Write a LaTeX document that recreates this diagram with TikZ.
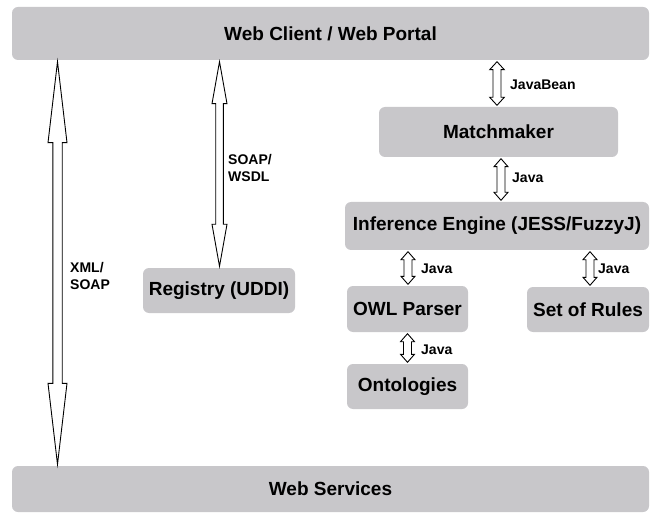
\documentclass[tikz,border=0pt]{standalone}
\usepackage{fontspec}
\setmainfont{Liberation Sans}
\usetikzlibrary{calc}
\definecolor{boxgray}{RGB}{200,199,202}
\tikzset{
  box/.style={fill=boxgray, rounded corners=6pt, inner sep=0pt,
    font=\fontsize{19}{21}\selectfont\bfseries},
  lbl/.style={anchor=west, align=left, inner sep=0pt,
    font=\fontsize{14}{16.5}\selectfont\bfseries},
  hollow/.style={draw=black, fill=white, line width=0.9pt, line join=miter}
}
% #1 x, #2 upper node, #3 lower node, #4 shaft half width, #5 head half width, #6 head length
\newcommand\dblarrow[6]{%
  \draw[hollow] let \p1=(#2.south), \p2=(#3.north) in
    (#1pt,\y1-1.5pt) -- (#1pt+#5pt,\y1-1.5pt-#6pt) -- (#1pt+#4pt,\y1-1.5pt-#6pt)
    -- (#1pt+#4pt,\y2+1.5pt+#6pt) -- (#1pt+#5pt,\y2+1.5pt+#6pt) -- (#1pt,\y2+1.5pt)
    -- (#1pt-#5pt,\y2+1.5pt+#6pt) -- (#1pt-#4pt,\y2+1.5pt+#6pt)
    -- (#1pt-#4pt,\y1-1.5pt-#6pt) -- (#1pt-#5pt,\y1-1.5pt-#6pt) -- cycle;}
\begin{document}
\begin{tikzpicture}[x=1pt,y=-1pt]
  \useasboundingbox (0,0) rectangle (656,513);
  \node[box, minimum width=637pt, minimum height=53pt] (client) at (330.5,33.5) {Web Client / Web Portal};
  \node[box, minimum width=637pt, minimum height=46pt] (services) at (330.5,489) {Web Services};
  \node[box, minimum width=152pt, minimum height=45pt] (registry) at (219,290.5) {Registry (UDDI)};
  \node[box, minimum width=239pt, minimum height=50pt] (matchmaker) at (498.5,132) {Matchmaker};
  \node[box, minimum width=304pt, minimum height=48pt] (engine) at (497,226) {Inference Engine (JESS/FuzzyJ)};
  \node[box, minimum width=121pt, minimum height=46pt] (owl) at (407.5,309) {OWL Parser};
  \node[box, minimum width=122pt, minimum height=45pt] (rules) at (588,309.5) {Set of Rules};
  \node[box, minimum width=121pt, minimum height=45pt] (onto) at (407.5,386.5) {Ontologies};

  \dblarrow{57.5}{client}{services}{4.7}{9.5}{81}
  \dblarrow{219.5}{client}{registry}{3.8}{7.5}{42}
  \dblarrow{497}{client}{matchmaker}{4}{7.3}{8}
  \dblarrow{501}{matchmaker}{engine}{4}{7}{8}
  \dblarrow{408}{engine}{owl}{4}{7}{8}
  \dblarrow{590}{engine}{rules}{4}{7}{8}
  \dblarrow{407.5}{owl}{onto}{4}{7}{8}

  \node[lbl] (xmllbl) at (70,276) {XML/\\SOAP};
  \node[lbl] (soaplbl) at (228,168) {SOAP/\\WSDL};
  \node[lbl] (beanlbl) at (510,85) {JavaBean};
  \node[lbl] (javaa) at (512,178) {Java};
  \node[lbl] (javab) at (421,269) {Java};
  \node[lbl] (javac) at (598,269) {Java};
  \node[lbl] (javad) at (421,350) {Java};
\end{tikzpicture}
\end{document}
